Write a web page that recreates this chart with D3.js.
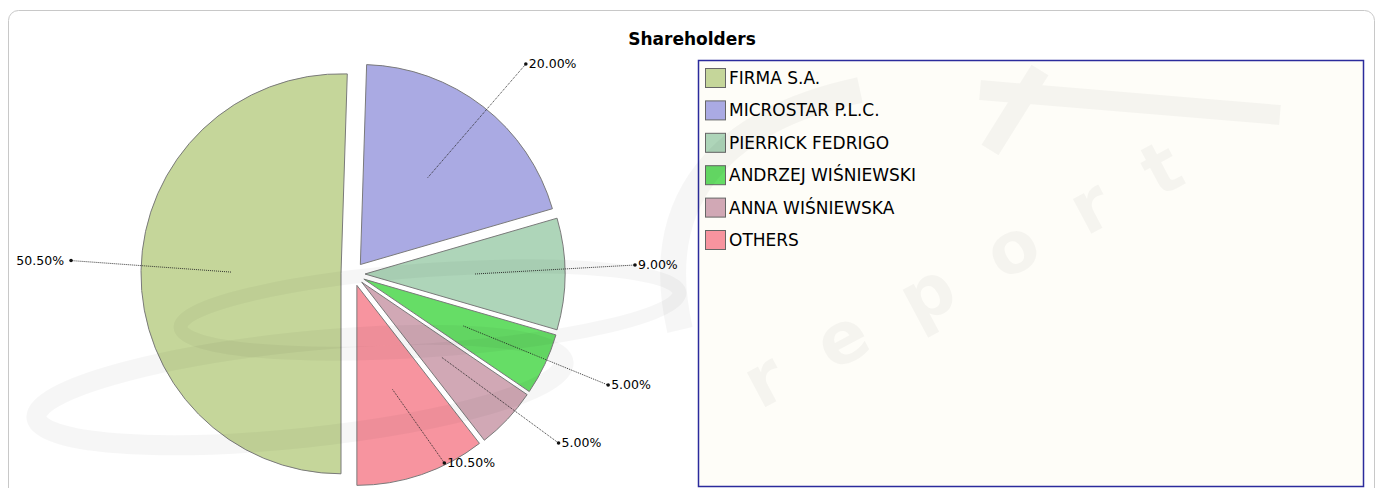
<!DOCTYPE html>
<html>
<head>
<meta charset="utf-8">
<script src="https://cdn.jsdelivr.net/npm/d3@7"></script>
<style>
  body { margin: 0; background: #fff; }
  text { font-family: "DejaVu Sans", sans-serif; }
</style>
</head>
<body>
<script>
var width = 1377,
    height = 488;

// data
var holders = ["FIRMA S.A.", "MICROSTAR P.L.C.", "PIERRICK FEDRIGO", "ANDRZEJ WIŚNIEWSKI", "ANNA WIŚNIEWSKA", "OTHERS"];
var shares = [50.5, 20, 9, 5, 5, 10.5];
var colours = ["#c5d69a", "#aaaae3", "#aed5b9", "#66dd66", "#d1a8b5", "#f7949f"];

var cx = 353, cy = 274, radius = 200, explode = 12;

var svg = d3.select("body").append("svg")
    .attr("width", width)
    .attr("height", height);

// outer frame
svg.append("rect")
  .attr("x", 8.5).attr("y", 10.5)
  .attr("width", 1366).attr("height", 500)
  .attr("rx", 10)
  .attr("fill", "#fff")
  .attr("stroke", "#c8c8c8");

svg.append("text")
  .attr("x", 692).attr("y", 45)
  .attr("text-anchor", "middle")
  .style("font-size", "17px")
  .style("font-weight", "bold")
  .text("Shareholders");

var color = d3.scaleOrdinal().domain(holders).range(colours);

var pie = d3.pie().sort(null)
    .startAngle(Math.PI).endAngle(3 * Math.PI)
    .value(function(d) { return d.value; });

var arcs = pie(holders.map(function(h, i) { return {name: h, value: shares[i]}; }));

var arc = d3.arc().innerRadius(0).outerRadius(radius);

arcs.forEach(function(d) {
  var mid = (d.startAngle + d.endAngle) / 2;
  d.dx = Math.sin(mid);
  d.dy = -Math.cos(mid);
  d.ax = cx + d.dx * explode;
  d.ay = cy + d.dy * explode;
  d.lx = d.ax + d.dx * radius * 0.55;
  d.ly = d.ay + d.dy * radius * 0.55;
  d.px = d.ax + d.dx * radius * 1.35;
  d.py = Math.max(64, Math.min(463, d.ay + d.dy * radius * 1.35 - 9));
  d.right = d.dx >= 0;
});

// push overlapping labels apart, bottom up
[true, false].forEach(function(side) {
  var group = arcs.filter(function(d) { return d.right === side; })
    .sort(function(a, b) { return b.py - a.py; });
  for (var i = 1; i < group.length; i++) {
    if (group[i - 1].py - group[i].py < 20) group[i].py = group[i - 1].py - 20;
  }
});

svg.append("g").selectAll("path")
  .data(arcs)
  .enter().append("path")
  .attr("transform", function(d) { return "translate(" + d.ax + "," + d.ay + ")"; })
  .attr("d", arc)
  .attr("fill", function(d) { return color(d.data.name); })
  .attr("stroke", "#7a7a7a")
  .attr("stroke-width", 1);

var links = svg.append("g");
links.selectAll("line")
  .data(arcs)
  .enter().append("line")
  .attr("x1", function(d) { return d.lx; })
  .attr("y1", function(d) { return d.ly; })
  .attr("x2", function(d) { return d.px; })
  .attr("y2", function(d) { return d.py; })
  .attr("stroke", "#222")
  .attr("stroke-width", 0.9)
  .attr("stroke-dasharray", "1,1");

links.selectAll("circle")
  .data(arcs)
  .enter().append("circle")
  .attr("cx", function(d) { return d.px; })
  .attr("cy", function(d) { return d.py; })
  .attr("r", 1.8)
  .attr("fill", "#111");

var fmt = d3.format(".2f");
svg.append("g").selectAll("text")
  .data(arcs)
  .enter().append("text")
  .attr("x", function(d) { return d.right ? d.px + 3 : d.px - 7; })
  .attr("y", function(d) { return d.py; })
  .attr("dy", "0.35em")
  .attr("text-anchor", function(d) { return d.right ? "start" : "end"; })
  .style("font-size", "12.5px")
  .text(function(d) { return fmt(d.data.value) + "%"; });

// legend
var legend = svg.append("g");
legend.append("rect")
  .attr("x", 698.5).attr("y", 60.5)
  .attr("width", 665).attr("height", 426)
  .attr("fill", "#fefdf8")
  .attr("stroke", "#2b2b9c").attr("stroke-width", 1.5);

var item = legend.selectAll("g.item")
  .data(holders)
  .enter().append("g")
  .attr("class", "item")
  .attr("transform", function(d, i) { return "translate(705," + (68 + i * 32.4) + ")"; });

item.append("rect")
  .attr("x", 0.5).attr("y", 0.5)
  .attr("width", 20).attr("height", 19)
  .attr("fill", function(d) { return color(d); })
  .attr("stroke", "#666");

item.append("text")
  .attr("x", 24).attr("y", 10)
  .attr("dy", "0.35em")
  .style("font-size", "17px")
  .text(function(d) { return d; });

// faint watermark laid over everything
var wm = svg.append("g")
  .attr("fill", "none")
  .attr("stroke", "#000")
  .attr("stroke-opacity", 0.035)
  .style("pointer-events", "none");
wm.append("ellipse")
  .attr("cx", 300).attr("cy", 390).attr("rx", 265).attr("ry", 48)
  .attr("transform", "rotate(-6 300 390)")
  .attr("stroke-width", 20);
wm.append("ellipse")
  .attr("cx", 430).attr("cy", 310).attr("rx", 250).attr("ry", 40)
  .attr("transform", "rotate(-4 430 310)")
  .attr("stroke-width", 14);
wm.append("path")
  .attr("d", "M680,330 C650,200 720,120 860,90")
  .attr("stroke-width", 26);
wm.append("path")
  .attr("d", "M980,90 L1280,115 M990,150 L1040,70")
  .attr("stroke-width", 20);
wm.append("text")
  .attr("transform", "translate(760,410) rotate(-28)")
  .attr("fill", "#000").attr("fill-opacity", 0.035)
  .attr("stroke", "none")
  .style("font-size", "72px")
  .style("font-weight", "bold")
  .style("letter-spacing", "46px")
  .text("report");
</script>
</body>
</html>
